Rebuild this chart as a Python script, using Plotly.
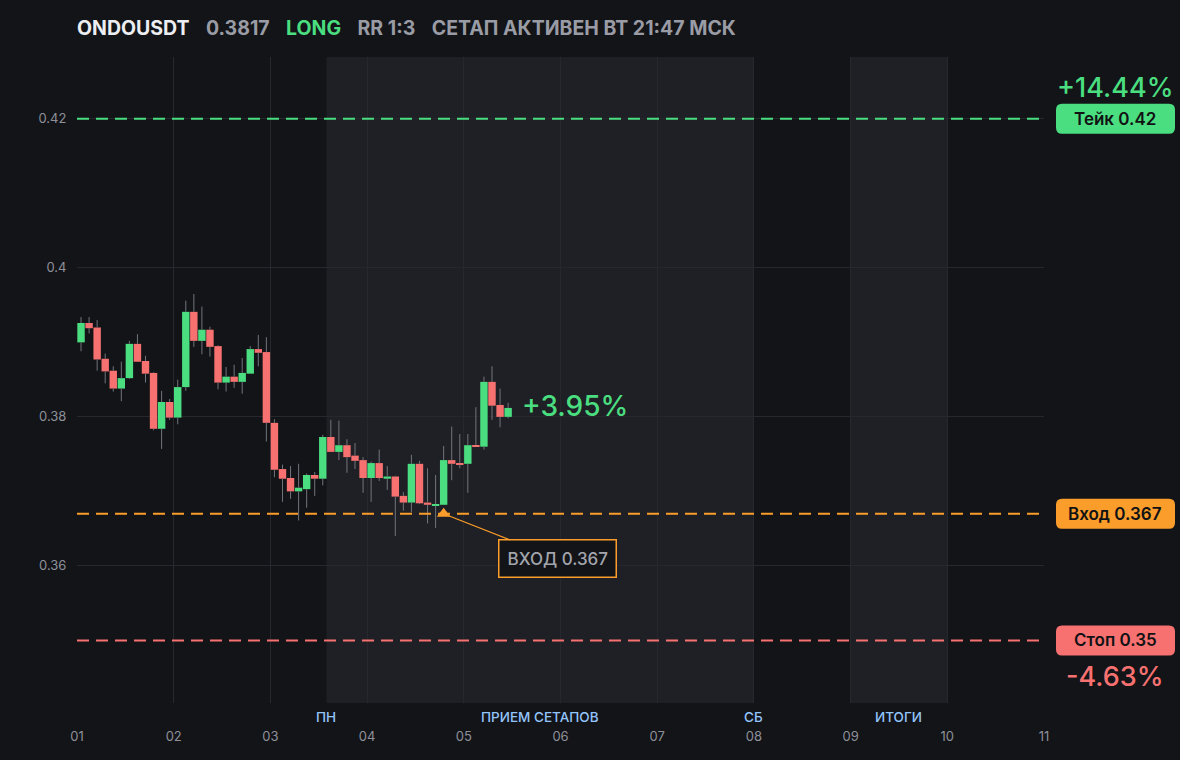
import plotly.graph_objects as go

# candles (2h bars)
opens = [0.3900, 0.3926, 0.3920, 0.3878, 0.3862, 0.3838, 0.3852, 0.3898, 0.3875, 0.3859,
         0.3784, 0.3820, 0.3799, 0.3840, 0.3941, 0.3902, 0.3917, 0.3895, 0.3846, 0.3854,
         0.3847, 0.3858, 0.3891, 0.3887, 0.3792, 0.3730, 0.3718, 0.3700, 0.3703, 0.3722,
         0.3717, 0.3773, 0.3753, 0.3762, 0.3748, 0.3742, 0.3718, 0.3738, 0.3717, 0.3720,
         0.3694, 0.3685, 0.3737, 0.3685, 0.3681, 0.3682, 0.3742, 0.3738, 0.3737, 0.3762,
         0.3760, 0.3847, 0.3816, 0.3800]
highs = [0.3934, 0.3934, 0.3930, 0.3885, 0.3868, 0.3874, 0.3902, 0.3911, 0.3882, 0.3860,
         0.3835, 0.3824, 0.3850, 0.3956, 0.3965, 0.3948, 0.3921, 0.3896, 0.3867, 0.3870,
         0.3879, 0.3895, 0.3910, 0.3907, 0.3797, 0.3736, 0.3734, 0.3737, 0.3724, 0.3726,
         0.3776, 0.3796, 0.3795, 0.3770, 0.3765, 0.3746, 0.3740, 0.3756, 0.3734, 0.3721,
         0.3699, 0.3749, 0.3741, 0.3731, 0.3722, 0.3761, 0.3787, 0.3777, 0.3777, 0.3813,
         0.3854, 0.3868, 0.3838, 0.3819]
lows = [0.3888, 0.3912, 0.3862, 0.3845, 0.3834, 0.3821, 0.3851, 0.3874, 0.3846, 0.3782,
        0.3757, 0.3796, 0.3790, 0.3835, 0.3894, 0.3884, 0.3881, 0.3837, 0.3834, 0.3839,
        0.3831, 0.3858, 0.3868, 0.3767, 0.3719, 0.3686, 0.3690, 0.3661, 0.3678, 0.3694,
        0.3708, 0.3753, 0.3742, 0.3725, 0.3730, 0.3698, 0.3686, 0.3714, 0.3702, 0.3640,
        0.3674, 0.3672, 0.3683, 0.3657, 0.3651, 0.3682, 0.3715, 0.3731, 0.3698, 0.3760,
        0.3756, 0.3796, 0.3786, 0.3798]
closes = [0.3926, 0.3919, 0.3877, 0.3861, 0.3838, 0.3852, 0.3898, 0.3874, 0.3858, 0.3784,
          0.3820, 0.3799, 0.3840, 0.3941, 0.3902, 0.3917, 0.3894, 0.3846, 0.3854, 0.3847,
          0.3859, 0.3891, 0.3886, 0.3792, 0.3729, 0.3717, 0.3700, 0.3705, 0.3722, 0.3717,
          0.3773, 0.3753, 0.3762, 0.3746, 0.3741, 0.3718, 0.3738, 0.3718, 0.3720, 0.3693,
          0.3685, 0.3737, 0.3684, 0.3682, 0.3683, 0.3742, 0.3737, 0.3736, 0.3762, 0.3760,
          0.3847, 0.3815, 0.3800, 0.3812]

day_ticks = [1, 2, 3, 4, 5, 6, 7, 8, 9, 10, 11]
day_labels = ["01", "02", "03", "04", "05", "06", "07", "08", "09", "10", "11"]
price_ticks = [0.36, 0.38, 0.40, 0.42]
price_labels = ["0.36", "0.38", "0.4", "0.42"]

# session bands and their captions
bands = [(3.58, 8.0), (9.0, 10.0)]
band_text = ["ПН", "ПРИЕМ СЕТАПОВ", "СБ", "ИТОГИ"]
band_text_x = [3.58, 5.79, 8.0, 9.5]

take, entry, stop = 0.42, 0.367, 0.35
entry_idx = 45
take_pct, stop_pct, now_pct = "+14.44%", "-4.63%", "+3.95%"

BG = "#131418"
BAND = "#1f2025"
GRID = "#27282e"
GREEN = "#4ade80"
RED = "#f87171"
ORANGE = "#fb9d2b"
GRAY = "#8e9099"
WICK = "#72747c"
FONT = "Inter"

Y0, Y1 = 0.3416, 0.4283
PLOT_H = 760 - 57 - 57


def ypaper(v):
    return (v - Y0) / (Y1 - Y0)


def rounded(x0, x1, y0, y1, r=6):
    rx = r / 967
    ry = r / PLOT_H
    return (f"M{x0+rx},{y0} L{x1-rx},{y0} Q{x1},{y0} {x1},{y0+ry} "
            f"L{x1},{y1-ry} Q{x1},{y1} {x1-rx},{y1} L{x0+rx},{y1} "
            f"Q{x0},{y1} {x0},{y1-ry} L{x0},{y0+ry} Q{x0},{y0} {x0+rx},{y0} Z")


xs = [1 + (i + 0.5) / 12 for i in range(len(opens))]

# wicks, split around the body so they never cross it
wx, wy = [], []
for x, o, h, l, c in zip(xs, opens, highs, lows, closes):
    top, bot = max(o, c), min(o, c)
    wx += [x, x, None, x, x, None]
    wy += [h, top, None, bot, l, None]

fig = go.Figure()
fig.add_trace(go.Scatter(x=wx, y=wy, mode="lines",
                         line=dict(color=WICK, width=1), hoverinfo="skip"))
fig.add_trace(go.Bar(
    x=xs,
    base=[min(o, c) for o, c in zip(opens, closes)],
    y=[abs(c - o) for o, c in zip(opens, closes)],
    width=0.92 / 12,
    marker=dict(color=[GREEN if c >= o else RED for o, c in zip(opens, closes)],
                line=dict(width=0)),
    hoverinfo="skip"))
fig.add_trace(go.Scatter(x=[xs[entry_idx]], y=[entry], mode="markers",
                         marker=dict(symbol="triangle-up", size=12, color=ORANGE),
                         hoverinfo="skip"))

for a, b in bands:
    fig.add_shape(type="rect", xref="x", yref="paper", x0=a, x1=b, y0=0, y1=1,
                  fillcolor=BAND, line=dict(width=0), layer="below")

for lvl, col in [(take, GREEN), (entry, ORANGE), (stop, RED)]:
    fig.add_shape(type="line", xref="paper", yref="y", x0=0, x1=1, y0=lvl, y1=lvl,
                  line=dict(color=col, width=2, dash="12px,7px"))

# right-hand level labels
bx0, bx1 = (1056 - 77) / 967, (1175 - 77) / 967
bmid = (bx0 + bx1) / 2
bh = 15 / PLOT_H
for lvl, col, txt in [(take, GREEN, "Тейк 0.42"), (entry, ORANGE, "Вход 0.367"),
                      (stop, RED, "Стоп 0.35")]:
    yp = ypaper(lvl)
    fig.add_shape(type="path", xref="paper", yref="paper",
                  path=rounded(bx0, bx1, yp - bh, yp + bh),
                  fillcolor=col, line=dict(width=0))
    fig.add_annotation(xref="paper", yref="paper", x=bmid, y=yp,
                       xanchor="center", yanchor="middle",
                       text=txt, showarrow=False,
                       font=dict(family=FONT, size=17, color="#111214", weight=600))

fig.add_annotation(xref="paper", yref="paper", x=bmid, y=ypaper(take),
                   xanchor="center", yanchor="middle",
                   yshift=31, text=take_pct, showarrow=False,
                   font=dict(family=FONT, size=27, color=GREEN, weight=500))
fig.add_annotation(xref="paper", yref="paper", x=bmid, y=ypaper(stop),
                   xanchor="center", yanchor="middle",
                   yshift=-36, text=stop_pct, showarrow=False,
                   font=dict(family=FONT, size=27, color=RED, weight=500))

fig.add_annotation(x=xs[-1], y=closes[-1], xanchor="left", yanchor="middle",
                   xshift=12, yshift=2,
                   text=now_pct, showarrow=False,
                   font=dict(family=FONT, size=28, color=GREEN, weight=500))

fig.add_annotation(x=xs[entry_idx], y=entry, ax=114, ay=45,
                   text="ВХОД 0.367", showarrow=True, arrowhead=0,
                   arrowcolor=ORANGE, arrowwidth=1.2, standoff=4,
                   bgcolor=BG, bordercolor=ORANGE, borderwidth=1.5, borderpad=8,
                   font=dict(family=FONT, size=17, color="#a3a5ad", weight=500))

for t, x in zip(band_text, band_text_x):
    fig.add_annotation(x=x, xref="x", yref="paper", y=0, yshift=-14,
                       xanchor="center", yanchor="middle", text=t, showarrow=False,
                       font=dict(family=FONT, size=13.5, color="#93c5fd", weight=500))

sp = "\u00a0\u00a0\u00a0"
title = (f"<b>ONDOUSDT</b>{sp}<span style='color:#9a9ca5'><b>0.3817</b></span>{sp}"
         f"<span style='color:{GREEN}'><b>LONG</b></span>{sp}"
         f"<span style='color:#9a9ca5'><b>RR 1:3</b>{sp}<b>СЕТАП АКТИВЕН ВТ 21:47 МСК</b></span>")

fig.update_layout(
    width=1180, height=760,
    margin=dict(l=77, r=136, t=57, b=57),
    paper_bgcolor=BG, plot_bgcolor=BG,
    showlegend=False, hovermode=False, barmode="overlay",
    title=dict(text=title, x=77 / 1180, xanchor="left", y=1 - 28 / 760,
               yanchor="middle", font=dict(family=FONT, size=19.5, color="#eceef2")),
    font=dict(family=FONT, color=GRAY, size=13),
    xaxis=dict(range=[1, 11], tickvals=day_ticks, ticktext=day_labels,
               showgrid=True, gridcolor=GRID, gridwidth=1, zeroline=False,
               ticks="outside", ticklen=21, tickcolor=BG,
               tickfont=dict(family=FONT, size=13, color=GRAY), fixedrange=True),
    yaxis=dict(range=[Y0, Y1], tickvals=price_ticks, ticktext=price_labels,
               showgrid=True, gridcolor=GRID, gridwidth=1, zeroline=False,
               ticks="outside", ticklen=7, tickcolor=BG,
               tickfont=dict(family=FONT, size=13, color=GRAY), fixedrange=True),
)

fig.write_html("out.html", config={"displayModeBar": False},
               post_script="document.body.style.margin='0';")
